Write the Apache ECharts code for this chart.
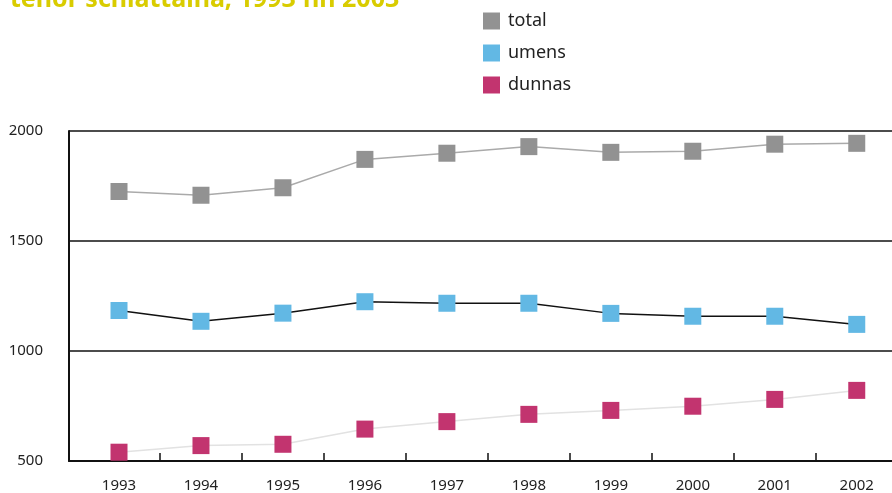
<!doctype html>
<html>
<head>
<meta charset="UTF-8"/>
<title>tenor schiattaina</title>
<script src="https://cdn.jsdelivr.net/npm/echarts@6/dist/echarts.min.js"></script>
<style>
html,body{margin:0;padding:0;background:#fff;}
#chart{width:892px;height:493px;}
</style>
</head>
<body>
<div id="chart"></div>
<script>
// ons
var years = [1993, 1994, 1995, 1996, 1997, 1998, 1999, 2000, 2001, 2002];
var total = [1725, 1708, 1742, 1871, 1899, 1929, 1903, 1908, 1940, 1944];
var umens = [1184, 1135, 1172, 1224, 1217, 1217, 1171, 1158, 1158, 1121];
var dunnas = [540, 570, 576, 645, 679, 712, 730, 749, 780, 821];
var yTicks = [500, 1000, 1500, 2000];
var tickYears = [1993.5, 1994.5, 1995.5, 1996.5, 1997.5, 1998.5, 1999.5, 2000.5, 2001.5];

function pairs(vals) {
    return years.map(function (y, i) { return [y, vals[i]]; });
}

var font = '"Noto Sans", sans-serif';
var myChart = echarts.init(document.getElementById('chart'));

var option = {
    animation: false,
    title: {
        text: 'tenor schiattaina, 1993 fin 2003',
        left: 5,
        top: -18,
        textStyle: { color: '#d9cc00', fontSize: 25, fontWeight: 'bold', fontFamily: font }
    },
    legend: {
        orient: 'vertical',
        left: 478,
        top: 7,
        itemWidth: 17,
        itemHeight: 17,
        itemGap: 14,
        icon: 'rect',
        textStyle: { color: '#222', fontSize: 18, lineHeight: 17, fontFamily: font, padding: [0, 0, 0, 3] },
        data: ['total', 'umens', 'dunnas']
    },
    grid: { left: 69, right: 0, top: 131, bottom: 32 },
    xAxis: {
        type: 'value',
        min: 1992.39,
        max: 2002.43,
        axisLine: { lineStyle: { color: '#111', width: 2 } },
        axisTick: {
            inside: true, length: 8,
            customValues: tickYears,
            lineStyle: { color: '#111', width: 1.5 }
        },
        axisLabel: {
            customValues: years,
            margin: 17,
            color: '#222',
            fontSize: 15,
            fontFamily: font,
            formatter: function (v) { return String(Math.round(v)); }
        },
        splitLine: { show: false }
    },
    yAxis: {
        type: 'value',
        min: 500,
        max: 2000,
        interval: 500,
        axisLine: { show: true, lineStyle: { color: '#111', width: 2 } },
        axisTick: { show: false },
        axisLabel: {
            customValues: yTicks,
            margin: 26, color: '#222', fontSize: 15, fontFamily: font,
            formatter: function (v) { return String(v); }
        },
        splitLine: { lineStyle: { color: '#111', width: 1.5 } }
    },
    series: [
        {
            name: 'total', type: 'line', data: pairs(total),
            symbol: 'rect', symbolSize: 17,
            itemStyle: { color: '#929292' },
            lineStyle: { color: '#aaaaaa', width: 1.5 }
        },
        {
            name: 'umens', type: 'line', data: pairs(umens),
            symbol: 'rect', symbolSize: 17,
            itemStyle: { color: '#62b8e4' },
            lineStyle: { color: '#111', width: 1.5 }
        },
        {
            name: 'dunnas', type: 'line', data: pairs(dunnas),
            symbol: 'rect', symbolSize: 17,
            itemStyle: { color: '#c2346f' },
            lineStyle: { color: '#e2e2e2', width: 1.5 }
        }
    ]
};

myChart.setOption(option);
</script>
</body>
</html>
